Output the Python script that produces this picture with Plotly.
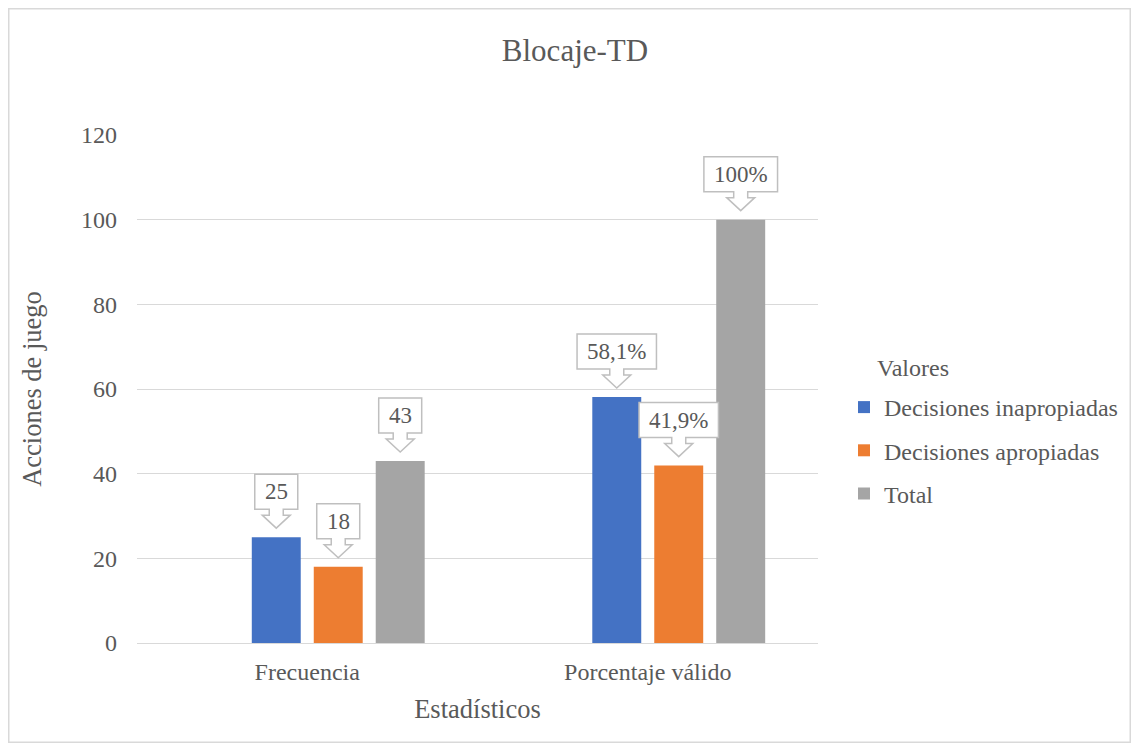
import plotly.graph_objects as go

categories = ["Frecuencia", "Porcentaje válido"]
series_names = ["Decisiones inapropiadas", "Decisiones apropiadas", "Total"]
inapropiadas = [25, 58.1]
apropiadas = [18, 41.9]
total = [43, 100]
labels_inapropiadas = ["25", "58,1%"]
labels_apropiadas = ["18", "41,9%"]
labels_total = ["43", "100%"]

colors = ["#4472C4", "#ED7D31", "#A5A5A5"]
series_values = [inapropiadas, apropiadas, total]
series_labels = [labels_inapropiadas, labels_apropiadas, labels_total]

FONT = "Liberation Serif"
TXT = "#595959"
GRID = "#D9D9D9"

W, H = 1123, 735          # figure size (page has 8px body margin)
L, T, PW, PH = 129, 127, 681, 508
R = W - L - PW
B = H - T - PH

def px(xpage):
    return (xpage - 8 - L) / PW

def py(ypage):
    return (T + PH - (ypage - 8)) / PH

# Excel layout: 4 slots per category (first slot empty)
bargap = 0.272
slot = (1 - bargap) / 4
barw = slot * 0.79
centers = [-(1 - bargap) / 2 + (k + 1.5) * slot for k in range(3)]

CW = {c: 0.5 for c in "0123456789"}
CW.update({",": 0.25, "%": 0.833})
LBL_FS = 23
TICK_FS = 24
LEG_FS = 24
AX_FS = 26.5

fig = go.Figure()
for j, (name, vals, col) in enumerate(zip(series_names, series_values, colors)):
    fig.add_trace(go.Bar(
        x=categories, y=vals, name=name, marker_color=col,
        marker_line_width=0, width=barw, offset=centers[j] - barw / 2,
        legendgroup=name,
    ))

shapes = []
annotations = []
for j, (vals, labs) in enumerate(zip(series_values, series_labels)):
    for i, (v, lab) in enumerate(zip(vals, labs)):
        xa = i + centers[j]
        w = sum(CW.get(c, 0.5) for c in lab) * LBL_FS + 20
        hw = w / 2
        path = (f"M {-hw},28 L {-hw},63 L {hw},63 L {hw},28 L 7,28 L 7,22 L 14,22 "
                f"L 0,9 L -14,22 L -7,22 L -7,28 Z")
        shapes.append(dict(type="path", xref="x", yref="y", xsizemode="pixel",
                           ysizemode="pixel", xanchor=xa, yanchor=v, path=path,
                           fillcolor="white", line=dict(color="#BFBFBF", width=1.5),
                           layer="above"))
        annotations.append(dict(x=xa, y=v, xref="x", yref="y", text=lab,
                                showarrow=False, yshift=45.5,
                                font=dict(family=FONT, size=LBL_FS, color=TXT)))

# outer chart border (figure edge)
shapes.append(dict(type="rect", xref="paper", yref="paper",
                   x0=(0.75 - L) / PW, x1=(W - 0.75 - L) / PW,
                   y0=(T + PH - (H - 0.75)) / PH, y1=(T + PH - 0.75) / PH,
                   line=dict(color=GRID, width=1.5), fillcolor="rgba(0,0,0,0)",
                   layer="below"))

annotations.append(dict(text="Valores", xref="paper", yref="paper",
                        x=px(875), y=py(368),
                        xanchor="left", yanchor="middle", showarrow=False,
                        font=dict(family=FONT, size=LEG_FS, color=TXT)))

fig.update_layout(
    width=W, height=H,
    margin=dict(l=L, r=R, t=T, b=B, autoexpand=False),
    paper_bgcolor="white", plot_bgcolor="white",
    font=dict(family=FONT, color=TXT, size=TICK_FS),
    barmode="overlay",
    title=dict(text="Blocaje-TD", x=(575 - 8) / W, xanchor="center",
               y=1 - (50 - 8) / H, yanchor="middle", yref="container",
               font=dict(family=FONT, size=31, color=TXT)),
    xaxis=dict(showgrid=False, showline=True, linecolor=GRID, linewidth=1,
               ticks="", ticklabelstandoff=7,
               tickfont=dict(family=FONT, size=TICK_FS, color=TXT),
               title=dict(text="Estadísticos", standoff=15,
                          font=dict(family=FONT, size=AX_FS, color=TXT))),
    yaxis=dict(range=[0, 120], dtick=20, showgrid=True, gridcolor=GRID,
               gridwidth=1, zeroline=False, showline=False, ticks="",
               ticklabelstandoff=19,
               tickfont=dict(family=FONT, size=TICK_FS, color=TXT),
               title=dict(text="Acciones de juego", standoff=31,
                          font=dict(family=FONT, size=AX_FS, color=TXT))),
    legend=dict(x=px(844), y=py(385), xanchor="left",
                yanchor="top", traceorder="grouped", tracegroupgap=9,
                font=dict(family=FONT, size=LEG_FS, color=TXT),
                bgcolor="rgba(0,0,0,0)"),
    shapes=shapes,
    annotations=annotations,
)

fig.write_html("out.html")
